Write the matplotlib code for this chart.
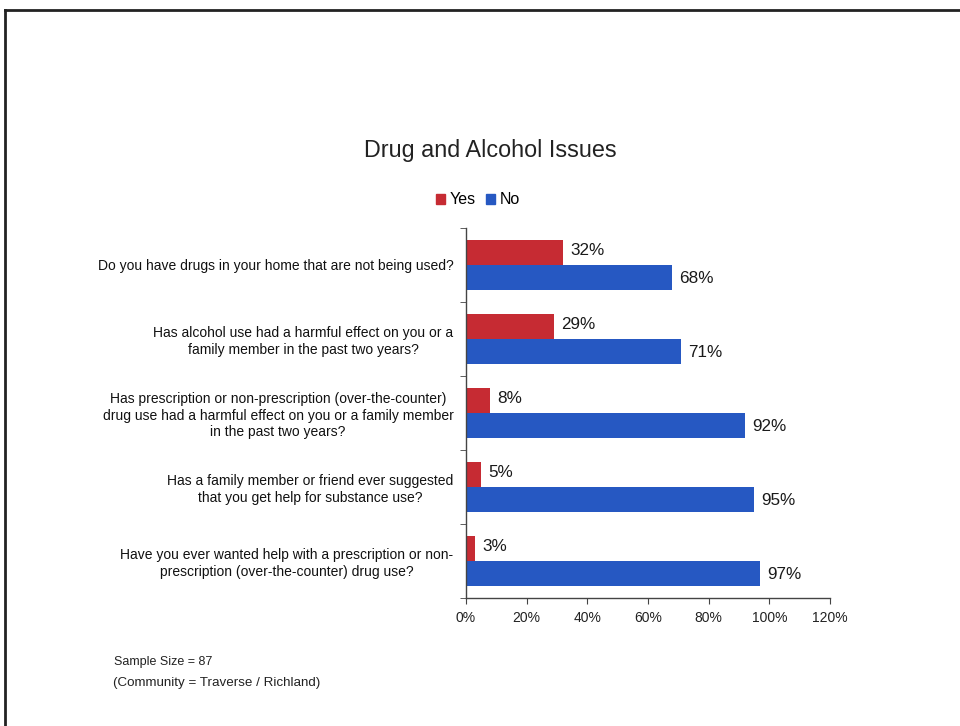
import matplotlib
matplotlib.use("Agg")
import matplotlib.pyplot as plt
from matplotlib.lines import Line2D
from matplotlib.patches import Patch
import numpy as np

plt.rcParams['font.family'] = ['Liberation Sans', 'DejaVu Sans']

categories = [
    "Do you have drugs in your home that are not being used?",
    "Has alcohol use had a harmful effect on you or a\nfamily member in the past two years?",
    "Has prescription or non-prescription (over-the-counter)\ndrug use had a harmful effect on you or a family member\nin the past two years?",
    "Has a family member or friend ever suggested\nthat you get help for substance use?",
    "Have you ever wanted help with a prescription or non-\nprescription (over-the-counter) drug use?",
]
yes_vals = [32, 29, 8, 5, 3]
no_vals = [68, 71, 92, 95, 97]
x_ticks = [0, 20, 40, 60, 80, 100, 120]

red = '#C62B33'
blue = '#2658C2'

fig = plt.figure(figsize=(9.6, 7.26), dpi=100)
ax = fig.add_axes([466/960, 1-598/726, (830-466)/960, (598-228)/726])

y = np.arange(len(categories))
h = 1/3
ax.barh(y - h/2, yes_vals, height=h, color=red, label='Yes')
ax.barh(y + h/2, no_vals, height=h, color=blue, label='No')

for yi, v in zip(y, yes_vals):
    ax.text(v + 2.3, yi - h/2 - 0.03, f"{v}%", va='center', ha='left', fontsize=12.3, color='#1a1a1a')
for yi, v in zip(y, no_vals):
    ax.text(v + 2.3, yi + h/2 + 0.02, f"{v}%", va='center', ha='left', fontsize=12.3, color='#1a1a1a')

ax.set_xlim(0, 120)
ax.set_ylim(4.5, -0.5)
ax.set_xticks(x_ticks)
ax.set_xticklabels([f"{t}%" for t in x_ticks], fontsize=10, color='#222222')
ax.set_yticks(y)
ax.set_yticklabels(categories, fontsize=10, multialignment='center', color='#111111')
ax.tick_params(axis='y', length=0, pad=9)
ax.set_yticks(np.arange(-0.5, 5, 1), minor=True)
ax.tick_params(axis='y', which='minor', length=4, direction='out', color='#444444')
ax.tick_params(axis='x', length=4, direction='out', color='#444444', pad=5)
for s in ['top', 'right']:
    ax.spines[s].set_visible(False)
for s in ['left', 'bottom']:
    ax.spines[s].set_color('#444444')
    ax.spines[s].set_linewidth(1.0)

fig.text(490/960, 1-150/726, "Drug and Alcohol Issues", ha='center', va='center', fontsize=16.8, color='#222222')

handles = [Patch(color=red, label='Yes'), Patch(color=blue, label='No')]
fig.legend(handles=handles, loc='center', bbox_to_anchor=(478/960, 1-200/726), ncol=2,
           frameon=False, fontsize=11.5, handlelength=0.55, handleheight=0.55,
           handletextpad=0.3, columnspacing=0.6)

fig.text(114/960, 1-662/726, "Sample Size = 87", ha='left', va='center', fontsize=9, color='#222222')
fig.text(113/960, 1-683/726, "(Community = Traverse / Richland)", ha='left', va='center', fontsize=9.6, color='#222222')

fig.add_artist(Line2D([5/960, 1.0], [1-10/726, 1-10/726], transform=fig.transFigure, color='#222222', lw=2))
fig.add_artist(Line2D([5/960, 5/960], [0, 1-10/726], transform=fig.transFigure, color='#222222', lw=2))

fig.savefig("out.png", dpi=100)
